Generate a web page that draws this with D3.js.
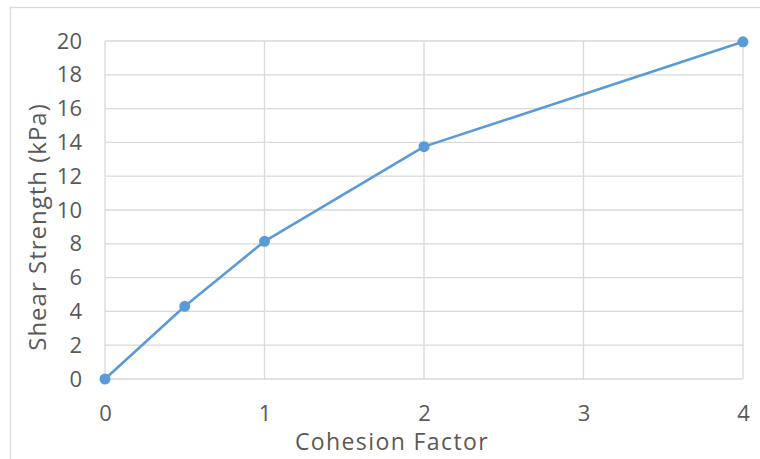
<!DOCTYPE html>
<html>
<head>
<meta charset="utf-8">
<script src="https://cdn.jsdelivr.net/npm/d3@7"></script>
<style>
  html, body { margin: 0; padding: 0; background: #fff; }
  svg { display: block; }
  text { font-family: "Open Sans", "Liberation Sans", sans-serif; fill: #595959; }
</style>
</head>
<body>
<svg id="chart" width="760" height="459"></svg>
<script>
// Shear strength measured against cohesion factor
const cohesionFactor = [0, 0.5, 1, 2, 4];
const shearStrength = [0, 4.3, 8.15, 13.75, 19.95];
const xTicks = [0, 1, 2, 3, 4];
const yTicks = [0, 2, 4, 6, 8, 10, 12, 14, 16, 18, 20];

const svg = d3.select("#chart");
const margin = { left: 105, top: 41, right: 743, bottom: 379 };

// Chart frame
svg.append("rect")
  .attr("x", 10.5).attr("y", 7.5)
  .attr("width", 760).attr("height", 470)
  .attr("fill", "#fff")
  .attr("stroke", "#d9d9d9").attr("stroke-width", 1.3);

const x = d3.scaleLinear().domain([0, 4]).range([margin.left, margin.right]);
const y = d3.scaleLinear().domain([0, 20]).range([margin.bottom, margin.top]);

// Gridlines
const grid = svg.append("g").attr("stroke", "#d9d9d9").attr("stroke-width", 1.3);
grid.selectAll(".h").data(yTicks).join("line")
  .attr("x1", margin.left).attr("x2", margin.right)
  .attr("y1", d => y(d)).attr("y2", d => y(d));
grid.selectAll(".v").data(xTicks).join("line")
  .attr("y1", margin.top).attr("y2", margin.bottom)
  .attr("x1", d => x(d)).attr("x2", d => x(d));

// Axes (labels only, lines come from the grid)
const yAxis = svg.append("g")
  .attr("transform", `translate(${margin.left},0)`)
  .call(d3.axisLeft(y).tickValues(yTicks).tickFormat(d3.format("d")).tickSize(0).tickPadding(23));
yAxis.select(".domain").remove();
yAxis.selectAll("text")
  .style("font-size", "22px").style("font-family", "'Open Sans', sans-serif").style("fill", "#595959");

const xAxis = svg.append("g")
  .attr("transform", `translate(0,${margin.bottom})`)
  .call(d3.axisBottom(x).tickValues(xTicks).tickFormat(d3.format("d")).tickSize(0).tickPadding(0));
xAxis.select(".domain").remove();
xAxis.selectAll("text")
  .attr("dy", null).attr("y", 42)
  .style("font-size", "22px").style("font-family", "'Open Sans', sans-serif").style("fill", "#595959");

// Axis titles
svg.append("text")
  .attr("x", 392).attr("y", 450)
  .attr("text-anchor", "middle")
  .style("font-size", "23px").style("letter-spacing", "1.4px")
  .text("Cohesion Factor");
svg.append("text")
  .attr("transform", "translate(46,227) rotate(-90)")
  .attr("text-anchor", "middle")
  .style("font-size", "24px").style("letter-spacing", "1px")
  .text("Shear Strength (kPa)");

// Series line and markers
const pts = cohesionFactor.map((c, i) => [c, shearStrength[i]]);
svg.append("path")
  .datum(pts)
  .attr("fill", "none").attr("stroke", "#5b9bd5").attr("stroke-width", 2.6)
  .attr("stroke-linejoin", "round")
  .attr("d", d3.line().x(d => x(d[0])).y(d => y(d[1])));
svg.selectAll(".pt").data(pts).join("circle")
  .attr("cx", d => x(d[0])).attr("cy", d => y(d[1])).attr("r", 5.5)
  .attr("fill", "#5b9bd5");
</script>
</body>
</html>
